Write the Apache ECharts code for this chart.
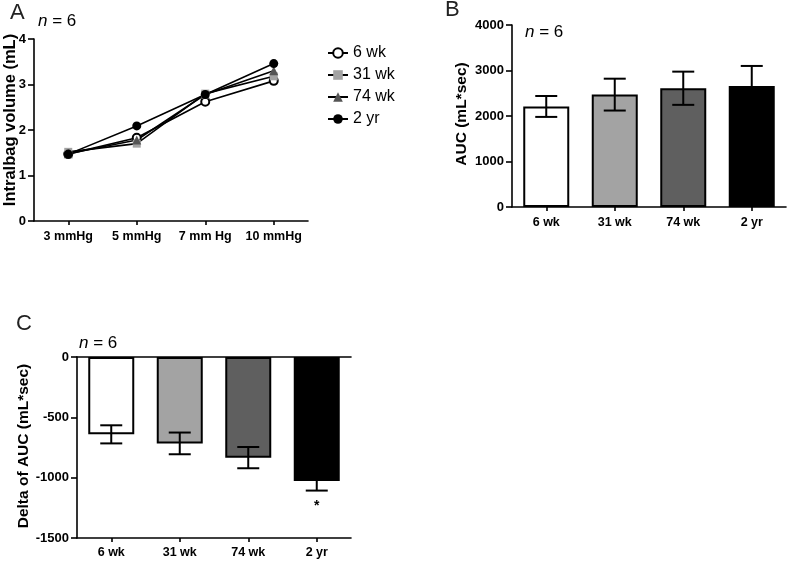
<!DOCTYPE html>
<html><head><meta charset="utf-8">
<script src="https://cdn.jsdelivr.net/npm/echarts@6/dist/echarts.min.js"></script>
<style>html,body{margin:0;padding:0;background:#fff}#c{width:787px;height:561px}</style>
</head><body><div id="c"></div>
<script>
// ---- data ----
const pressureCats = ['3 mmHg', '5 mmHg', '7 mm Hg', '10 mmHg'];
const ageGroups = ['6 wk', '31 wk', '74 wk', '2 yr'];
const vol6wk  = [1.47, 1.83, 2.62, 3.08];
const vol31wk = [1.52, 1.70, 2.80, 3.18];
const vol74wk = [1.48, 1.78, 2.78, 3.30];
const vol2yr  = [1.47, 2.09, 2.78, 3.46];
const aucMean = [2210, 2470, 2610, 2660];
const aucErr  = [230, 350, 365, 440];
const deltaMean = [-641, -716, -834, -1027];
const deltaErr  = [75, 90, 88, 80];
const barColors = ['#ffffff', '#a3a3a3', '#5f5f5f', '#000000'];

const FONT = '"Liberation Sans", Arial, sans-serif';
const chart = echarts.init(document.getElementById('c'));

function errRender(params, api) {
  const x = api.value(0), m = api.value(1), e = api.value(2);
  const hi = api.coord([x, m + e]), lo = api.coord([x, m - e]);
  const half = 11;
  const st = { stroke: '#000', lineWidth: 2 };
  return { type: 'group', children: [
    { type: 'line', shape: { x1: hi[0], y1: hi[1], x2: lo[0], y2: lo[1] }, style: st },
    { type: 'line', shape: { x1: hi[0] - half, y1: hi[1], x2: hi[0] + half, y2: hi[1] }, style: st },
    { type: 'line', shape: { x1: lo[0] - half, y1: lo[1], x2: lo[0] + half, y2: lo[1] }, style: st }
  ]};
}

const axLine = { show: true, lineStyle: { color: '#000', width: 1.6 } };
const xTickLbl = { color: '#000', fontFamily: FONT, fontWeight: 'bold', fontSize: 12.5 };
const yTickLbl = { color: '#000', fontFamily: FONT, fontWeight: 'bold', fontSize: 13 };

function catAxis(grid, data, extra) {
  return Object.assign({
    type: 'category', gridIndex: grid, data: data, boundaryGap: true,
    axisLine: Object.assign({ onZero: false }, axLine),
    axisTick: { show: true, alignWithLabel: true, length: 4, lineStyle: { color: '#000', width: 1.6 } },
    axisLabel: Object.assign({ margin: 8, interval: 0 }, xTickLbl),
    splitLine: { show: false }
  }, extra || {});
}
function valAxis(grid, min, max, interval) {
  return {
    type: 'value', gridIndex: grid, min: min, max: max, interval: interval,
    axisLine: axLine,
    axisTick: { show: true, length: 6, lineStyle: { color: '#000', width: 1.6 } },
    axisLabel: Object.assign({ margin: 8, formatter: v => String(v) }, yTickLbl),
    splitLine: { show: false }
  };
}

function lineSeries(name, data, symbol, size, fill, border) {
  return {
    type: 'line', name: name, xAxisIndex: 0, yAxisIndex: 0, data: data,
    symbol: symbol, symbolSize: size,
    lineStyle: { color: '#000', width: 1.6 },
    itemStyle: { color: fill, borderColor: border, borderWidth: border === fill ? 0 : 2 },
    emphasis: { disabled: true }, z: 3
  };
}

function barData(vals) {
  return vals.map((v, i) => ({ value: v, itemStyle: { color: barColors[i] } }));
}
function errData(means, errs) {
  return means.map((m, i) => [i, m, errs[i]]);
}

function nText(x, y) {
  return { type: 'text', x: x, y: y, style: {
    text: '{i|n} = 6', fontFamily: FONT, fontSize: 17, fill: '#000', verticalAlign: 'middle',
    rich: { i: { fontStyle: 'italic', fontFamily: FONT, fontSize: 17 } } } };
}
function panelLetter(t, x, y) {
  return { type: 'text', x: x, y: y, style: { text: t, fontFamily: FONT, fontSize: 22, fill: '#222', verticalAlign: 'middle' } };
}
function vTitle(t, x, y, size) {
  return { type: 'text', x: x, y: y, rotation: Math.PI / 2, style: {
    text: t, fontFamily: FONT, fontWeight: 'bold', fontSize: size, fill: '#000', align: 'center', verticalAlign: 'middle' } };
}

const lblBelow = Object.assign({ margin: 9, interval: 0 }, xTickLbl);
const option = {
  animation: false,
  backgroundColor: '#fff',
  grid: [
    { left: 34, top: 39, width: 274, height: 182 },
    { left: 512, top: 25, width: 274, height: 182 },
    { left: 77, top: 357, width: 274, height: 181 }
  ],
  xAxis: [
    catAxis(0, pressureCats, { axisLabel: lblBelow }),
    catAxis(1, ageGroups, { axisLabel: lblBelow }),
    catAxis(2, ageGroups, { position: 'bottom' }),
    { type: 'category', gridIndex: 2, data: ageGroups, position: 'top',
      axisLine: Object.assign({ onZero: false }, axLine), axisTick: { show: false }, axisLabel: { show: false } }
  ],
  yAxis: [
    valAxis(0, 0, 4, 1),
    valAxis(1, 0, 4000, 1000),
    valAxis(2, -1500, 0, 500)
  ],
  legend: {
    orient: 'vertical', left: 327, top: 45, padding: 0, itemWidth: 20, itemHeight: 12, itemGap: 6,
    data: ['6 wk', '31 wk', '74 wk', '2 yr'],
    textStyle: { fontFamily: FONT, fontSize: 16, color: '#000' }
  },
  series: [
    lineSeries('6 wk', vol6wk, 'circle', 8, '#ffffff', '#000000'),
    lineSeries('31 wk', vol31wk, 'rect', 8, '#a3a3a3', '#a3a3a3'),
    lineSeries('74 wk', vol74wk, 'triangle', 9, '#555555', '#555555'),
    lineSeries('2 yr', vol2yr, 'circle', 9, '#000000', '#000000'),
    { type: 'bar', xAxisIndex: 1, yAxisIndex: 1, data: barData(aucMean), barWidth: 46,
      itemStyle: { borderColor: '#000', borderWidth: 2 }, emphasis: { disabled: true } },
    { type: 'custom', xAxisIndex: 1, yAxisIndex: 1, data: errData(aucMean, aucErr),
      renderItem: errRender, encode: { x: 0, y: 1 }, z: 5 },
    { type: 'bar', xAxisIndex: 2, yAxisIndex: 2, data: barData(deltaMean), barWidth: 46,
      itemStyle: { borderColor: '#000', borderWidth: 2 }, emphasis: { disabled: true } },
    { type: 'custom', xAxisIndex: 2, yAxisIndex: 2, data: errData(deltaMean, deltaErr),
      renderItem: errRender, encode: { x: 0, y: 1 }, z: 5 }
  ],
  graphic: [
    panelLetter('A', 10, 13),
    panelLetter('B', 445, 10),
    panelLetter('C', 16, 324),
    nText(38, 21),
    nText(525, 32),
    nText(79, 343),
    vTitle('Intralbag volume (mL)', 10, 120, 16.5),
    vTitle('AUC (mL*sec)', 462, 114, 15.5),
    vTitle('Delta of AUC (mL*sec)', 24, 446, 15.5)
  ]
};
chart.setOption(option);

// significance marker below the 2 yr bar in panel C
const starPos = chart.convertToPixel({ xAxisIndex: 2, yAxisIndex: 2 }, [3, deltaMean[3] - deltaErr[3]]);
chart.setOption({ graphic: option.graphic.concat([
  { type: 'text', x: starPos[0], y: starPos[1] + 16, style: { text: '*', fontFamily: FONT, fontSize: 14, fontWeight: 'bold', fill: '#000', align: 'center', verticalAlign: 'middle' } }
]) });
</script>
</body></html>
